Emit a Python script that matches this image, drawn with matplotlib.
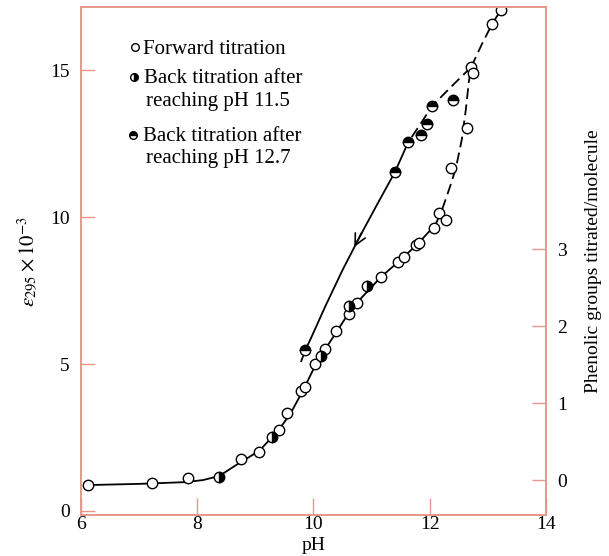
import matplotlib
matplotlib.use("Agg")
import matplotlib.pyplot as plt

plt.rcParams['font.family'] = ['Liberation Serif', 'DejaVu Serif']
plt.rcParams['mathtext.fontset'] = 'stix'

FRAME = '#e8968c'

# forward titration (open circles): pH, eps x 1e-3
fwd_ph = [6.12, 7.23, 7.84, 8.76, 9.07, 9.40, 9.55, 9.79, 9.86, 10.03, 10.20, 10.39,
          10.61, 10.75, 11.16, 11.45, 11.56, 11.76, 11.81, 12.07, 12.16, 12.28,
          12.36, 12.64, 12.71, 12.74, 13.07, 13.22]
fwd_eps = [0.88, 0.95, 1.12, 1.77, 2.01, 2.76, 3.33, 4.08, 4.22, 5.00, 5.51, 6.12,
           6.70, 7.07, 7.96, 8.47, 8.64, 9.05, 9.12, 9.63, 10.14, 9.90,
           11.67, 13.03, 15.10, 14.90, 16.56, 17.04]

# back titration after reaching pH 11.5
b115_ph = [8.38, 9.29, 10.13, 10.61, 10.92]
b115_eps = [1.16, 2.52, 5.27, 6.97, 7.65]

# back titration after reaching pH 12.7
b127_ph = [9.86, 11.40, 11.63, 11.85, 11.95, 12.04, 12.40]
b127_eps = [5.48, 11.53, 12.55, 12.79, 13.16, 13.78, 13.98]

# drawn curves
fwd_line_ph = [6.12, 7.0, 7.8, 8.1, 8.38, 8.7, 9.07, 9.4, 9.6, 9.82, 10.03, 10.2,
               10.4, 10.61, 10.8, 11.16, 11.5, 11.8, 12.1]
fwd_line_eps = [0.88, 0.92, 0.98, 1.05, 1.19, 1.6, 2.05, 2.75, 3.3, 4.1, 4.95, 5.5,
                6.1, 6.75, 7.2, 7.96, 8.55, 9.1, 9.75]
fwd_dash_ph = [12.1, 12.21, 12.36, 12.45, 12.55, 12.62, 12.67, 12.71, 12.9, 13.07, 13.22]
fwd_dash_eps = [9.75, 10.24, 11.1, 11.67, 12.62, 13.64, 14.56, 15.1, 15.9, 16.56, 17.04]
back_dash_ph = [12.71, 12.4, 12.04, 11.85, 11.63]
back_dash_eps = [15.1, 14.5, 13.78, 13.2, 12.55]
back_line_ph = [11.63, 11.4, 11.1, 10.8, 10.5, 10.2, 9.95, 9.86, 9.79]
back_line_eps = [12.55, 11.53, 10.45, 9.35, 8.2, 6.95, 5.85, 5.48, 5.1]

x_ticks = [6, 8, 10, 12, 14]
y_ticks = [0, 5, 10, 15]
r_ticks = [0, 1, 2, 3]

fig = plt.figure(figsize=(6.09, 5.56), dpi=100)
ax = fig.add_axes([0.133, 0.0737, 0.7635, 0.913])

ax.plot(fwd_line_ph, fwd_line_eps, color='k', lw=1.3)
ax.plot(fwd_dash_ph, fwd_dash_eps, color='k', lw=1.3, ls=(0, (6, 3)))
ax.plot(back_dash_ph, back_dash_eps, color='k', lw=1.3, ls=(0, (6, 3)))
ax.plot(back_line_ph, back_line_eps, color='k', lw=1.3)
# arrow on back titration line
ax.annotate('', xy=(10.68, 8.9), xytext=(10.85, 9.55),
            arrowprops=dict(arrowstyle='->', lw=1.2, color='k', mutation_scale=20))

mk = dict(ls='none', marker='o', ms=7.5, mew=1.0, mec='k')
ax.plot(fwd_ph, fwd_eps, mfc='white', **mk)
ax.plot(b115_ph, b115_eps, mfc='k', mfcalt='white', fillstyle='right', **mk)
ax.plot(b127_ph, b127_eps, mfc='k', mfcalt='white', fillstyle='top', **mk)

ax.set_xlim(6, 14)
ax.set_ylim(-0.14, 17.14)
ax.set_xticks(x_ticks)
ax.set_yticks(y_ticks)
for s in ax.spines.values():
    s.set_color(FRAME)
    s.set_linewidth(1.2)
ax.tick_params(direction='in', color=FRAME, labelsize=14, width=1)
ax.tick_params(axis='x', length=12, pad=1)
ax.tick_params(axis='y', length=10, pad=8)
ax.set_xlabel('pH', fontsize=14)
ax.xaxis.set_label_coords(0.5, -0.044)
ax.set_ylabel(r'$\varepsilon_{295}\times10^{-3}$', fontsize=15)
ax.yaxis.set_label_coords(-0.088, 0.5)

# right axis: phenolic groups
ax2 = ax.twinx()
ax2.set_ylim((-0.14 - 1.05) / 2.62, (17.14 - 1.05) / 2.62)
ax2.set_yticks(r_ticks)
ax2.tick_params(direction='in', color=FRAME, labelsize=14, length=10, pad=8, width=1)
for s in ax2.spines.values():
    s.set_color(FRAME)
    s.set_linewidth(1.2)
ax2.set_ylabel('Phenolic groups titrated/molecule', fontsize=14)
ax2.yaxis.set_label_coords(1.085, 0.5)

# legend drawn by hand
leg = dict(transform=ax.transAxes, clip_on=False, ls='none', marker='o', ms=5.5,
           mew=1.0, mec='k')
ax.plot([0.116], [0.921], mfc='white', **leg)
ax.plot([0.114], [0.862], mfc='k', mfcalt='white', fillstyle='right', **leg)
ax.plot([0.112], [0.748], mfc='k', mfcalt='white', fillstyle='top', **leg)
tx = dict(transform=ax.transAxes, fontsize=15, va='center', ha='left')
ax.text(0.134, 0.918, 'Forward titration', **tx)
ax.text(0.136, 0.859, 'Back titration after', **tx)
ax.text(0.140, 0.814, 'reaching pH 11.5', **tx)
ax.text(0.134, 0.746, 'Back titration after', **tx)
ax.text(0.140, 0.703, 'reaching pH 12.7', **tx)

fig.savefig('out.png', dpi=100)
